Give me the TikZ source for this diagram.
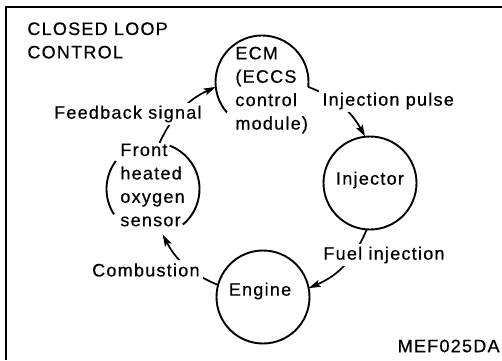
\documentclass[tikz,border=0pt]{standalone}
\usepackage{fontspec}
\setmainfont{Liberation Sans}[LetterSpace=7, FakeBold=0.6]
\usetikzlibrary{arrows.meta}

\begin{document}
\begin{tikzpicture}[
  x=0.5pt, y=0.5pt,
  every node/.style={font=\fontsize{9pt}{11.7pt}\selectfont, inner sep=0pt},
  ring/.style={circle, minimum size=46.5pt, inner sep=0pt, outer sep=0pt},
  ringline/.style={line width=0.95pt},
  ringtext/.style={align=left, anchor=west},
  flowarr/.style={-{Stealth[length=6pt, width=3.6pt, inset=1.2pt]}, line width=0.85pt},
  flowlbl/.style={fill=white, inner sep=1.5pt},
  frameline/.style={line width=1pt},
]
\useasboundingbox (0,0) rectangle (502,360);

%% ── Frame and title ─────────────────────────────────────────────────────────
\draw[frameline] (502,353) -- (5.5,353) -- (5.5,0);
\node[align=left, anchor=north west] (title) at (27,338) {CLOSED LOOP\\CONTROL};
\node[anchor=east] (figid) at (500,14) {MEF025DA};

%% ── The four stations of the loop ───────────────────────────────────────────
\node[ring] (ecm) at (262,278) {};
\node[ring, draw, ringline] (inj) at (370,177) {};
\node[ring, draw, ringline] (eng) at (263,63) {};
\node[ring] (sens) at (153,171) {};

\draw[ringline] (ecm.-6) arc[start angle=-6, end angle=221, radius=23.25pt];
\draw[ringline] (sens.143) arc[start angle=143, end angle=213, radius=23.25pt];
\draw[ringline] (sens.-50) arc[start angle=-50, end angle=69, radius=23.25pt];

\node[ringtext] (ecmtxt) at (235,270) {ECM\\(ECCS\\control\\module)};
\node (injtxt) at (370,180) {Injector};
\node (engtxt) at (260,69) {Engine};
\node[ringtext] (senstxt) at (120,175) {Front\\heated\\oxygen\\sensor};

%% ── Connectors, clockwise ───────────────────────────────────────────────────
\draw[flowarr] (ecm.-6)  to[bend left=20] (inj.96);
\draw[flowarr] (inj.266) to[bend left=22] (eng.11);
\draw[flowarr] (eng.165) to[bend left=20] (sens.282);
\draw[flowarr] (sens.82) to[bend left=20] (ecm.186);

%% labels sit over the connectors
\node[flowlbl, anchor=west] (pulse) at (319,259) {Injection pulse};
\node[flowlbl, anchor=west] (fuel)  at (320,105) {Fuel injection};
\node[flowlbl, anchor=east] (comb)  at (203,90)  {Combustion};
\node[flowlbl, anchor=east] (fback) at (205,246) {Feedback signal};

\end{tikzpicture}
\end{document}
